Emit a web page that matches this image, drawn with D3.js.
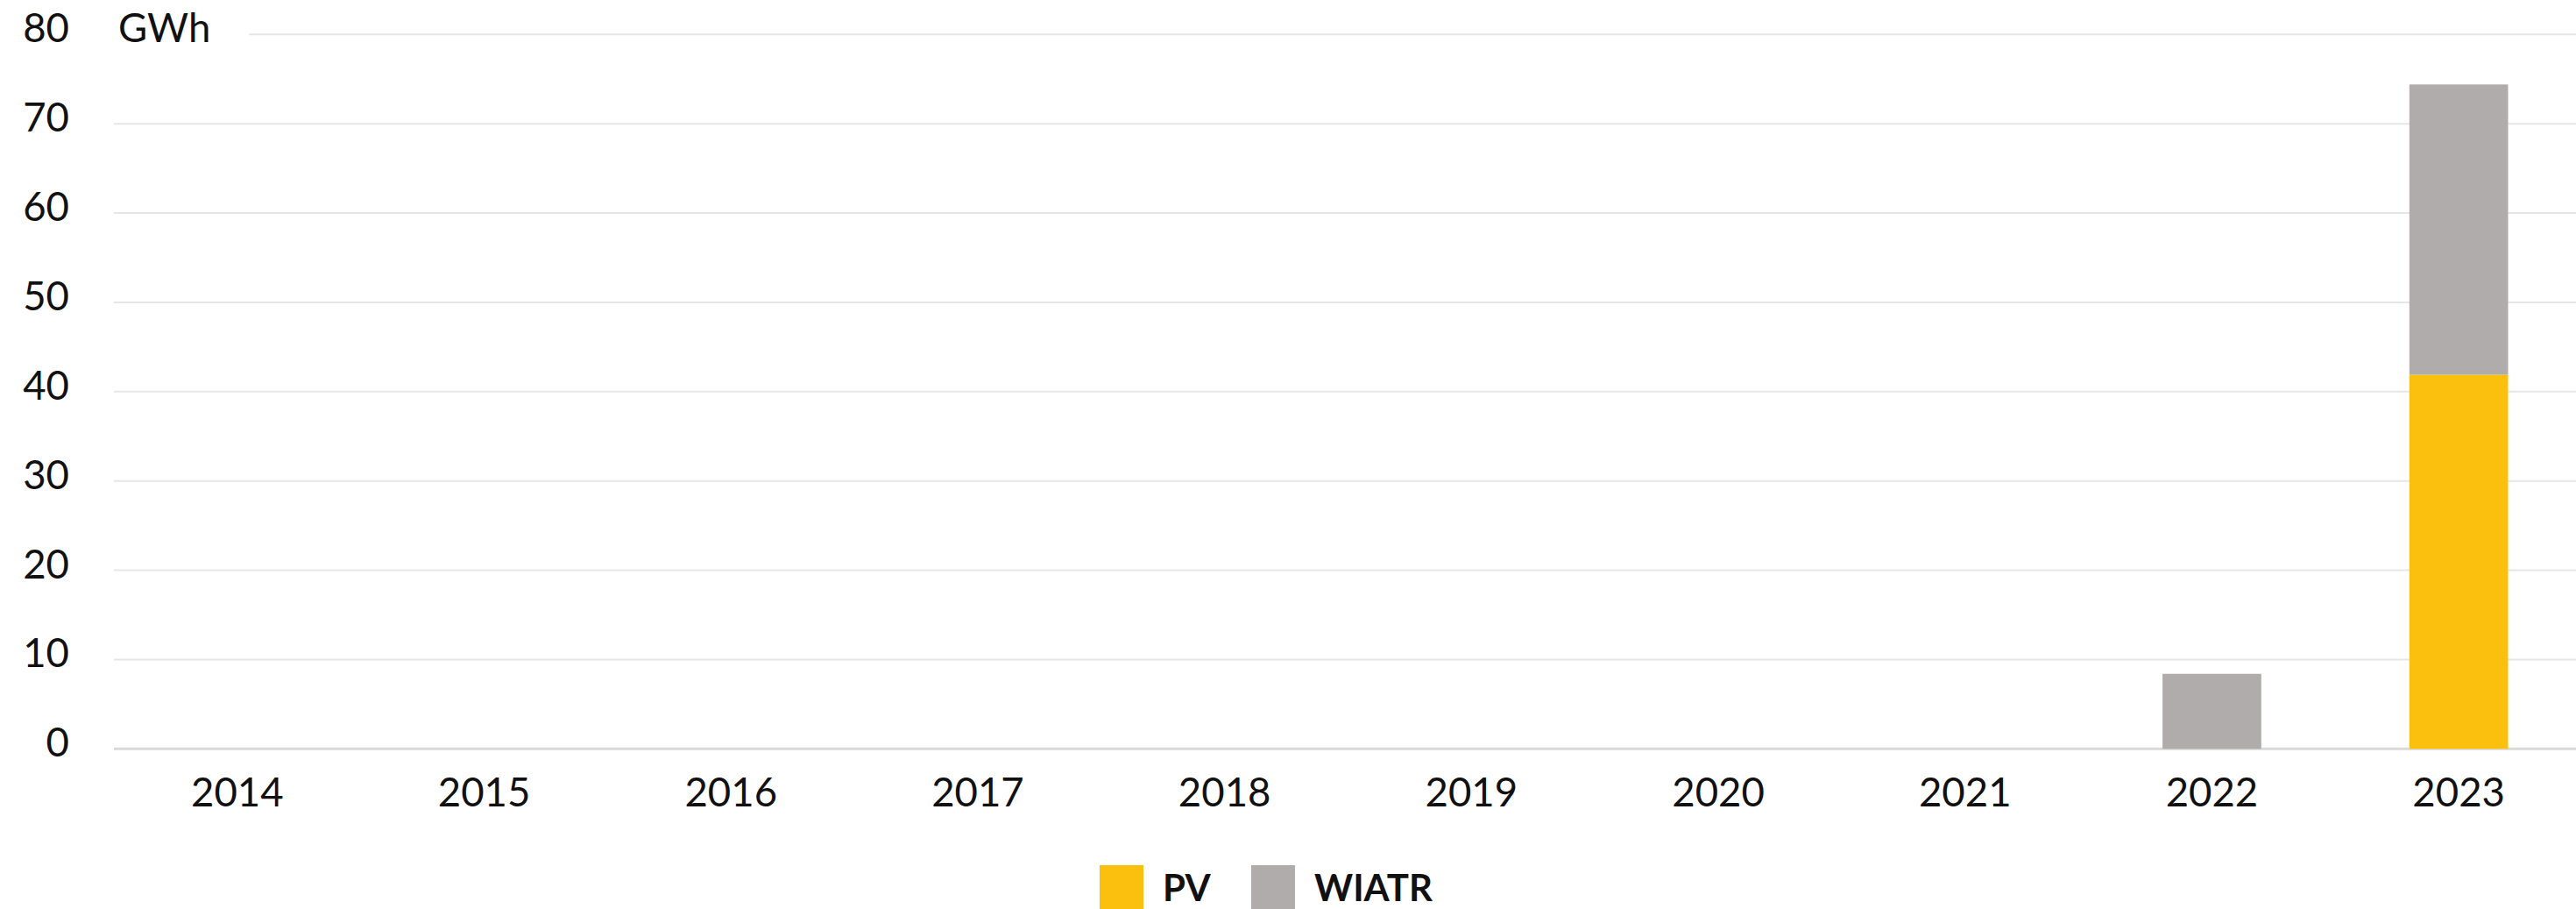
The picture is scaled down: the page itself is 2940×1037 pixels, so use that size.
<!DOCTYPE html>
<html>
<head>
<meta charset="utf-8">
<script src="https://cdn.jsdelivr.net/npm/d3@7"></script>
<style>
  html, body { margin: 0; padding: 0; background: #fff; }
  svg { display: block; font-family: Lato, "Noto Sans", sans-serif; }
</style>
</head>
<body>
<svg id="chart" width="2940" height="1037"></svg>
<script>
const years = ["2014", "2015", "2016", "2017", "2018", "2019", "2020", "2021", "2022", "2023"];
const pvValues = [0, 0, 0, 0, 0, 0, 0, 0, 0, 41.9];
const windValues = [0, 0, 0, 0, 0, 0, 0, 0, 8.4, 32.5];
const seriesKeys = ["PV", "WIATR"];
const seriesColors = ["#fbc00e", "#afacab"];
const yTicks = [0, 10, 20, 30, 40, 50, 60, 70, 80];
const unitLabel = "GWh";

const width = 2940;
const height = 1037;
const plotLeft = 130;
const plotRight = 2947;
const plotTop = 39.3;
const plotBottom = 854.3;
const labelSize = 45.5;

const svg = d3.select("#chart");

const rows = years.map((year, i) => ({ year, PV: pvValues[i], WIATR: windValues[i] }));
const stacked = d3.stack().keys(seriesKeys)(rows);

const x = d3
  .scaleBand()
  .domain(years)
  .range([plotLeft, plotRight])
  .paddingInner(0.6)
  .paddingOuter(0.3);
const y = d3.scaleLinear().domain([0, 80]).range([plotBottom, plotTop]);
const color = d3.scaleOrdinal().domain(seriesKeys).range(seriesColors);

// unit label next to top tick
const unit = svg
  .append("text")
  .attr("x", 135)
  .attr("y", y(80) + 9)
  .attr("font-size", labelSize)
  .attr("fill", "#111")
  .text(unitLabel);
const unitEnd = 135 + unit.node().getComputedTextLength();

// gridlines
svg
  .append("g")
  .selectAll("line")
  .data(yTicks)
  .join("line")
  .attr("x1", (d) => (d === 80 ? unitEnd + 44 : plotLeft))
  .attr("x2", width)
  .attr("y1", (d) => y(d))
  .attr("y2", (d) => y(d))
  .attr("stroke", (d) => (d === 0 ? "#d9d9d9" : "#e6e6e6"))
  .attr("stroke-width", (d) => (d === 0 ? 3 : 2));

// y tick labels
svg
  .append("g")
  .selectAll("text")
  .data(yTicks)
  .join("text")
  .attr("x", 79)
  .attr("y", (d) => y(d) + 9)
  .attr("text-anchor", "end")
  .attr("font-size", labelSize)
  .attr("fill", "#111")
  .text((d) => d);

// bars
svg
  .append("g")
  .selectAll("g")
  .data(stacked)
  .join("g")
  .attr("fill", (d) => color(d.key))
  .selectAll("rect")
  .data((d) => d.filter((p) => p[1] - p[0] > 0))
  .join("rect")
  .attr("x", (d) => x(d.data.year))
  .attr("width", x.bandwidth())
  .attr("y", (d) => y(d[1]))
  .attr("height", (d) => y(d[0]) - y(d[1]));

// x labels
svg
  .append("g")
  .selectAll("text")
  .data(years)
  .join("text")
  .attr("x", (d) => x(d) + x.bandwidth() / 2)
  .attr("y", 920)
  .attr("text-anchor", "middle")
  .attr("font-size", labelSize)
  .attr("fill", "#111")
  .text((d) => d);

// legend
const legendX = [1255, 1428];
const legend = svg
  .append("g")
  .selectAll("g")
  .data(seriesKeys)
  .join("g")
  .attr("transform", (d, i) => `translate(${legendX[i]},987)`);
legend
  .append("rect")
  .attr("width", 50)
  .attr("height", 50)
  .attr("fill", (d) => color(d));
legend
  .append("text")
  .attr("x", 72)
  .attr("y", 41)
  .attr("font-size", 42)
  .attr("font-weight", "bold")
  .attr("fill", "#111")
  .text((d) => d);
</script>
</body>
</html>
